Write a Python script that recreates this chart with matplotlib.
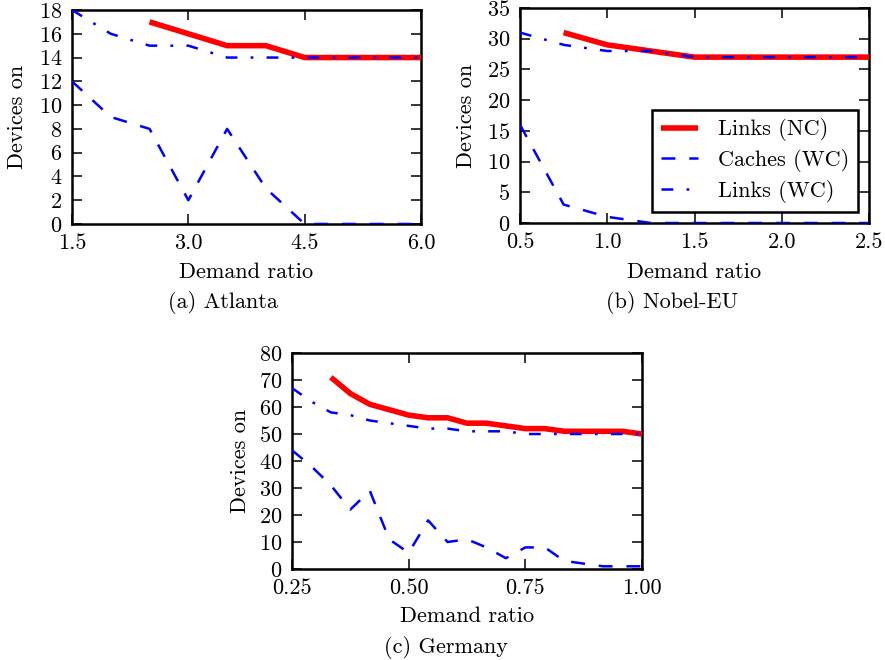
import matplotlib
matplotlib.use("Agg")
import matplotlib.pyplot as plt
import numpy as np

plt.rcParams['font.family'] = ['cmr10', 'DejaVu Serif']
plt.rcParams['mathtext.fontset'] = 'cm'
plt.rcParams['axes.formatter.use_mathtext'] = True
plt.rcParams['lines.scale_dashes'] = False

# ---- data ----
atl_x = [1.5, 2.0, 2.5, 3.0, 3.5, 4.0, 4.5, 5.0, 5.5, 6.0]
atl_links_nc = [np.nan, np.nan, 17, 16, 15, 15, 14, 14, 14, 14]
atl_caches_wc = [12, 9, 8, 2, 8, 3, 0, 0, 0, 0]
atl_links_wc = [18, 16, 15, 15, 14, 14, 14, 14, 14, 14]

nob_x = [0.5, 0.75, 1.0, 1.25, 1.5, 1.75, 2.0, 2.25, 2.5]
nob_links_nc = [np.nan, 31, 29, 28, 27, 27, 27, 27, 27]
nob_caches_wc = [16, 3, 1, 0, 0, 0, 0, 0, 0]
nob_links_wc = [31, 29, 28, 28, 27, 27, 27, 27, 27]

ger_x = [0.25, 0.2917, 0.3333, 0.375, 0.4167, 0.4583, 0.5, 0.5417, 0.5833,
         0.625, 0.6667, 0.7083, 0.75, 0.7917, 0.8333, 0.875, 0.9167, 0.9583, 1.0]
ger_links_nc = [np.nan, np.nan, 71, 65, 61, 59, 57, 56, 56, 54, 54, 53, 52, 52, 51, 51, 51, 51, 50]
ger_caches_wc = [44, 38, 31, 22, 29, 11, 6, 18, 10, 11, 8, 4, 8, 8, 3, 2, 1, 1, 1]
ger_links_wc = [67, 62, 58, 57, 55, 54, 53, 52, 52, 51, 51, 51, 50, 50, 50, 50, 50, 50, 50]

series_labels = ['Links (NC)', 'Caches (WC)', 'Links (WC)']

atl_xticks = [1.5, 3.0, 4.5, 6.0]
atl_xticklabels = ['1.5', '3.0', '4.5', '6.0']
atl_yticks = [0, 2, 4, 6, 8, 10, 12, 14, 16, 18]
nob_xticks = [0.5, 1.0, 1.5, 2.0, 2.5]
nob_xticklabels = ['0.5', '1.0', '1.5', '2.0', '2.5']
nob_yticks = [0, 5, 10, 15, 20, 25, 30, 35]
ger_xticks = [0.25, 0.50, 0.75, 1.00]
ger_xticklabels = ['0.25', '0.50', '0.75', '1.00']
ger_yticks = [0, 10, 20, 30, 40, 50, 60, 70, 80]

captions = ['(a) Atlanta', '(b) Nobel-EU', '(c) Germany']

W, H = 885, 660
FS = 16
fig = plt.figure(figsize=(W / 100, H / 100), dpi=100)


def px_axes(left, top, right, bottom):
    return fig.add_axes([left / W, 1 - bottom / H, (right - left) / W, (bottom - top) / H])


def draw(ax, x, nc, cw, lw_, xlim, ylim, xticks, xtl, yticks):
    ax.plot(x, nc, color='red', lw=4.0, solid_capstyle='butt', label=series_labels[0], zorder=3)
    ax.plot(x, cw, color='blue', lw=1.8, dashes=(10, 10), label=series_labels[1], zorder=4)
    ax.plot(x, lw_, color='blue', lw=1.8, dashes=(8.5, 9.5, 2, 9.5), label=series_labels[2], zorder=4)
    ax.set_xlim(*xlim)
    ax.set_ylim(*ylim)
    ax.set_xticks(xticks)
    ax.set_xticklabels(xtl)
    ax.set_yticks(yticks)
    ax.tick_params(direction='in', length=7, width=1.1, top=True, right=True,
                   labelsize=FS, pad=7)
    for s in ax.spines.values():
        s.set_linewidth(1.8)


ax1 = px_axes(72, 10, 421, 224)
draw(ax1, atl_x, atl_links_nc, atl_caches_wc, atl_links_wc, (1.5, 6.0), (0, 18),
     atl_xticks, atl_xticklabels, atl_yticks)
ax2 = px_axes(520, 8, 869, 223)
draw(ax2, nob_x, nob_links_nc, nob_caches_wc, nob_links_wc, (0.5, 2.5), (0, 35),
     nob_xticks, nob_xticklabels, nob_yticks)
ax3 = px_axes(292, 353, 642, 569)
draw(ax3, ger_x, ger_links_nc, ger_caches_wc, ger_links_wc, (0.25, 1.0), (0, 80),
     ger_xticks, ger_xticklabels, ger_yticks)

leg = ax2.legend(loc='lower right', fontsize=FS, fancybox=False, edgecolor='black',
                 handlelength=1.65, handletextpad=0.9, borderaxespad=0.5, framealpha=1,
                 labelspacing=0.35, borderpad=0.4)
leg.get_frame().set_linewidth(1.8)

# axis labels
for (cx, by) in [(246.5, 278), (694.5, 278), (467, 622)]:
    fig.text(cx / W, 1 - by / H, 'Demand ratio', ha='center', va='baseline', fontsize=FS)
for (cx, cy) in [(17, 117), (466, 116), (240, 461)]:
    fig.text(cx / W, 1 - cy / H, 'Devices on', ha='center', va='center', rotation=90, fontsize=FS)
for (cx, by), t in zip([(223, 308), (672, 308), (446, 653)], captions):
    fig.text(cx / W, 1 - by / H, t, ha='center', va='baseline', fontsize=FS)

fig.savefig('out.png', dpi=100)
